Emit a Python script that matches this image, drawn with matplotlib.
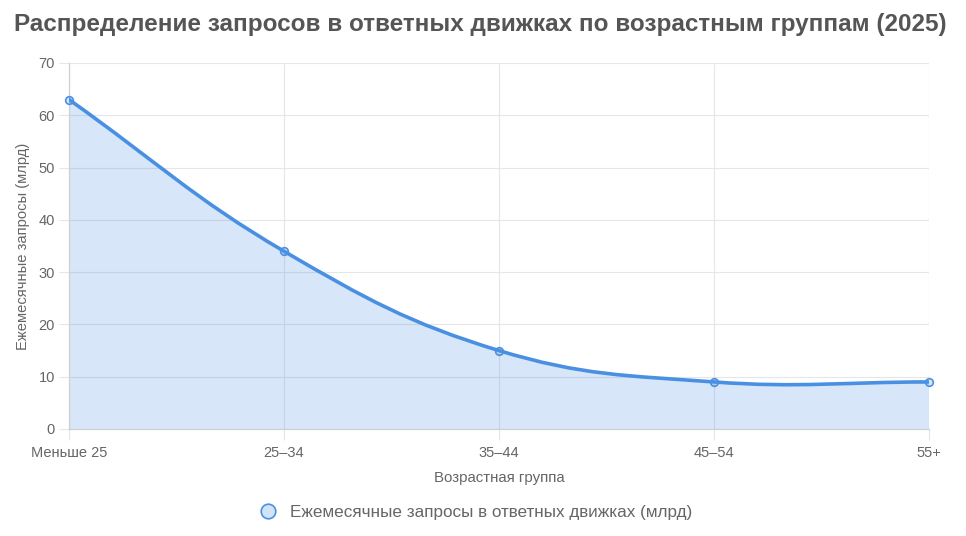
import numpy as np
import matplotlib
matplotlib.use("Agg")
import matplotlib.pyplot as plt
from matplotlib.path import Path
from matplotlib.patches import PathPatch
from matplotlib.lines import Line2D

plt.rcParams['font.family'] = ['Liberation Sans', 'DejaVu Sans']

age_groups = ["Меньше 25", "25–34", "35–44", "45–54", "55+"]
queries = [63, 34, 15, 9, 9]
y_ticks = [0, 10, 20, 30, 40, 50, 60, 70]

title = "Распределение запросов в ответных движках по возрастным группам (2025)"
x_title = "Возрастная группа"
y_title = "Ежемесячные запросы (млрд)"
series_name = "Ежемесячные запросы в ответных движках (млрд)"

line_col = "#4a90e2"
fill_col = (74/255, 144/255, 226/255, 0.22)
grid_col = "#e6e6e6"
text_col = "#666666"

fig = plt.figure(figsize=(9.66, 5.36), dpi=100)
ax = fig.add_axes([69/966, 1-429/536, 860/966, 366/536])
ax.set_xlim(0, len(age_groups)-1)
ax.set_ylim(0, 70)

# chart.js style tension spline, computed in display space
xs = np.arange(len(queries), dtype=float)
pts = ax.transData.transform(np.column_stack([xs, queries]))
t = 0.4
n = len(pts)
cp_prev = pts.copy(); cp_next = pts.copy()
for i in range(n):
    p0 = pts[max(i-1, 0)]; p1 = pts[i]; p2 = pts[min(i+1, n-1)]
    d01 = np.hypot(*(p1-p0)); d12 = np.hypot(*(p2-p1))
    s01 = d01/(d01+d12) if d01+d12 else 0
    s12 = d12/(d01+d12) if d01+d12 else 0
    cp_prev[i] = p1 - t*s01*(p2-p0)
    cp_next[i] = p1 + t*s12*(p2-p0)
verts = [pts[0]]
codes = [Path.MOVETO]
for i in range(n-1):
    verts += [cp_next[i], cp_prev[i+1], pts[i+1]]
    codes += [Path.CURVE4]*3
inv = ax.transData.inverted()
verts_d = inv.transform(np.array(verts))
curve = Path(verts_d, codes)
fill_verts = np.vstack([verts_d, [[xs[-1], 0], [xs[0], 0], verts_d[0]]])
fill_codes = codes + [Path.LINETO, Path.LINETO, Path.CLOSEPOLY]
ax.add_patch(PathPatch(Path(fill_verts, fill_codes), facecolor=fill_col, edgecolor="none", zorder=2))
ax.add_patch(PathPatch(curve, facecolor="none", edgecolor=line_col, lw=2.6, zorder=3, capstyle="round"))
ax.plot(xs, queries, "o", ms=5.5, mfc=fill_col, mec=line_col, mew=1.2, zorder=4, clip_on=False)

ax.set_xticks(xs)
ax.set_xticklabels(age_groups)
ax.set_yticks(y_ticks)
ax.grid(True, color=grid_col, lw=0.8, zorder=0)
ax.set_axisbelow(True)
for s in ["top", "right"]:
    ax.spines[s].set_visible(False)
for s in ["left", "bottom"]:
    ax.spines[s].set_color("#d0d0d0")
    ax.spines[s].set_linewidth(0.9)
ax.tick_params(axis="x", length=8, color=grid_col, labelsize=10.5, labelcolor=text_col, pad=4)
ax.tick_params(axis="y", length=7, color=grid_col, labelsize=10.5, labelcolor=text_col, pad=3)

ax.set_xlabel(x_title, fontsize=10.8, color=text_col, labelpad=8)
ax.set_ylabel(y_title, fontsize=10.6, color=text_col, labelpad=6)

fig.text(480/966, 1-25/536, title, ha="center", va="center", fontsize=17.5, fontweight="bold", color="#555555")

handle = Line2D([], [], marker="o", ls="none", ms=10.5, mfc=(74/255, 144/255, 226/255, 0.25), mec=line_col, mew=1.2)
fig.legend([handle], [series_name], loc="center", bbox_to_anchor=(0.488, 1-512/536), frameon=False,
           fontsize=12.3, labelcolor=text_col, handletextpad=0.3)

fig.savefig("out.png", dpi=100)
